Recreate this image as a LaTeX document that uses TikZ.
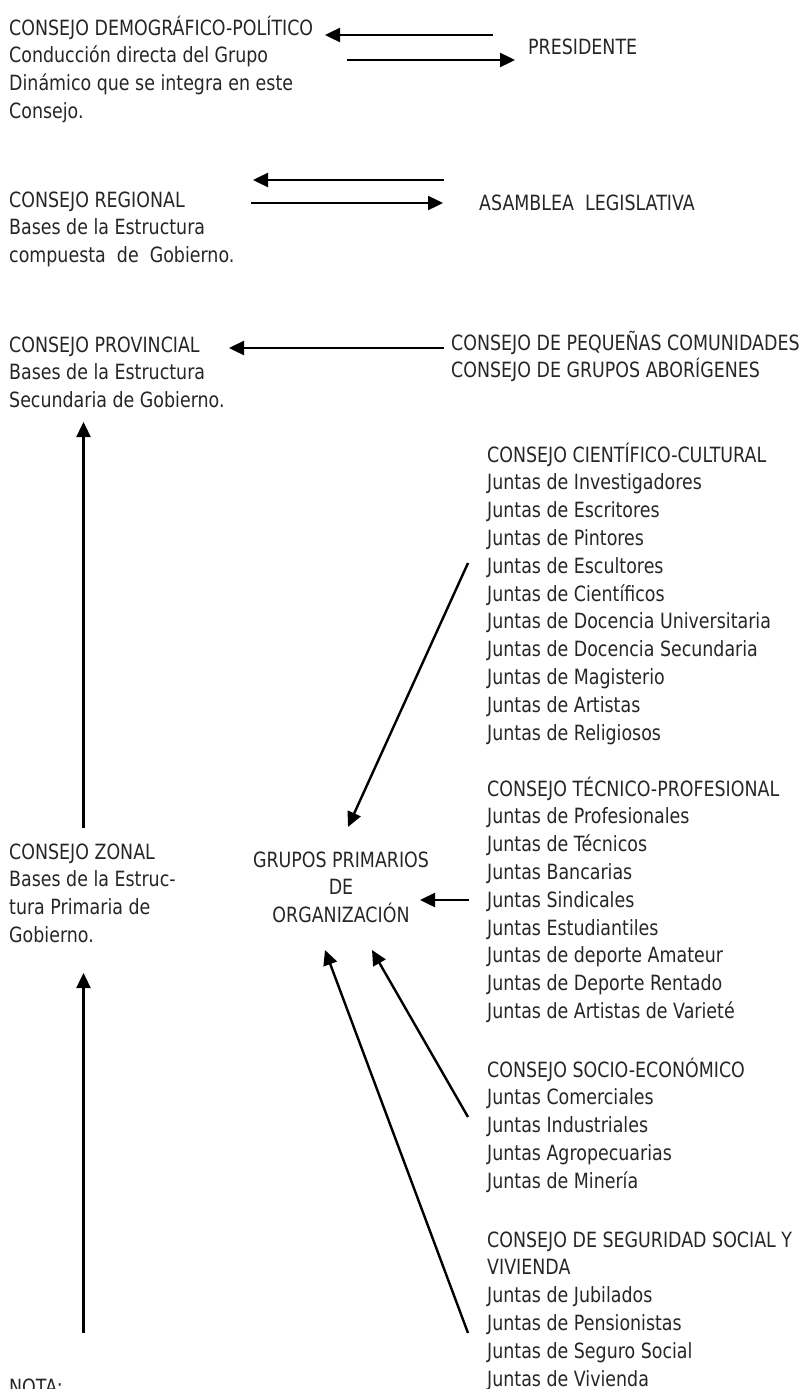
\documentclass[tikz,border=0pt]{standalone}
\usepackage{fontspec}
\setmainfont{DejaVu Sans}[FakeStretch=0.83]
\usetikzlibrary{arrows.meta}

\begin{document}
\begin{tikzpicture}
  [x=1pt,y=-1pt,
   every node/.style={inner sep=0pt,anchor=base west,align=left,text=black!85,
     font=\fontsize{21}{27.8}\selectfont},
   flecha/.style={line width=2.4pt,-{Triangle[length=15pt,width=14pt]}}]
  \useasboundingbox (0,0) rectangle (809,1389);

  % left column (placed by the baseline of the last line)
  \node (demo) at (9,118.4) {CONSEJO DEMOGRÁFICO-POLÍTICO\\Conducción directa del Grupo\\Dinámico que se integra en este\\Consejo.};
  \node (regional) at (9,262.6) {CONSEJO REGIONAL\\Bases de la Estructura\\compuesta~ de~ Gobierno.};
  \node (provincial) at (9,407.6) {CONSEJO PROVINCIAL\\Bases de la Estructura\\Secundaria de Gobierno.};
  \node (zonal) at (9,942.4) {CONSEJO ZONAL\\Bases de la Estruc-\\tura Primaria de\\Gobierno.};
  \node (nota) at (9,1394) {NOTA:};

  % right column
  \node (pres) at (528,55) {PRESIDENTE};
  \node (asamblea) at (479,210) {ASAMBLEA~ LEGISLATIVA};
  \node (pequenas) at (451,377.8) {CONSEJO DE PEQUEÑAS COMUNIDADES\\CONSEJO DE GRUPOS ABORÍGENES};
  \node (grupos) [anchor=base,align=center] at (341,922.6) {GRUPOS PRIMARIOS\\DE\\ORGANIZACIÓN};

  \node (cientifico) at (487,740) {CONSEJO CIENTÍFICO-CULTURAL\\Juntas de Investigadores\\Juntas de Escritores\\Juntas de Pintores\\Juntas de Escultores\\Juntas de Científicos\\Juntas de Docencia Universitaria\\Juntas de Docencia Secundaria\\Juntas de Magisterio\\Juntas de Artistas\\Juntas de Religiosos};
  \node (tecnico) at (487,1018.4) {CONSEJO TÉCNICO-PROFESIONAL\\Juntas de Profesionales\\Juntas de Técnicos\\Juntas Bancarias\\Juntas Sindicales\\Juntas Estudiantiles\\Juntas de deporte Amateur\\Juntas de Deporte Rentado\\Juntas de Artistas de Varieté};
  \node (socio) at (487,1188.2) {CONSEJO SOCIO-ECONÓMICO\\Juntas Comerciales\\Juntas Industriales\\Juntas Agropecuarias\\Juntas de Minería};
  \node (seguridad) at (487,1386) {CONSEJO DE SEGURIDAD SOCIAL Y\\VIVIENDA\\Juntas de Jubilados\\Juntas de Pensionistas\\Juntas de Seguro Social\\Juntas de Vivienda};

  % arrow ends
  \coordinate (p1) at (493,35);   \coordinate (d1) at (325,35);
  \coordinate (d2) at (347,60);   \coordinate (p2) at (515,60);
  \coordinate (a1) at (444,180);  \coordinate (r1) at (253,180);
  \coordinate (r2) at (251,203);  \coordinate (a2) at (443,203);
  \coordinate (c1) at (444,348);  \coordinate (v1) at (229,348);
  \coordinate (z1) at (83.5,828); \coordinate (v2) at (83.5,422);
  \coordinate (z2) at (83.5,1333);\coordinate (z3) at (83.5,973);
  \coordinate (k1) at (468,563);  \coordinate (g1) at (348,827);
  \coordinate (t1) at (469,900);  \coordinate (g2) at (420,900);
  \coordinate (s1) at (468,1333); \coordinate (g3) at (325,950);
  \coordinate (e1) at (468,1117); \coordinate (g4) at (372,950);

  \draw[flecha] (p1) -- (d1);
  \draw[flecha] (d2) -- (p2);
  \draw[flecha] (a1) -- (r1);
  \draw[flecha] (r2) -- (a2);
  \draw[flecha] (c1) -- (v1);
  \draw[flecha] (z1) -- (v2);
  \draw[flecha] (z2) -- (z3);

  \draw[flecha] (k1) -- (g1);
  \draw[flecha] (t1) -- (g2);
  \draw[flecha] (s1) -- (g3);
  \draw[flecha] (e1) -- (g4);
\end{tikzpicture}
\end{document}
